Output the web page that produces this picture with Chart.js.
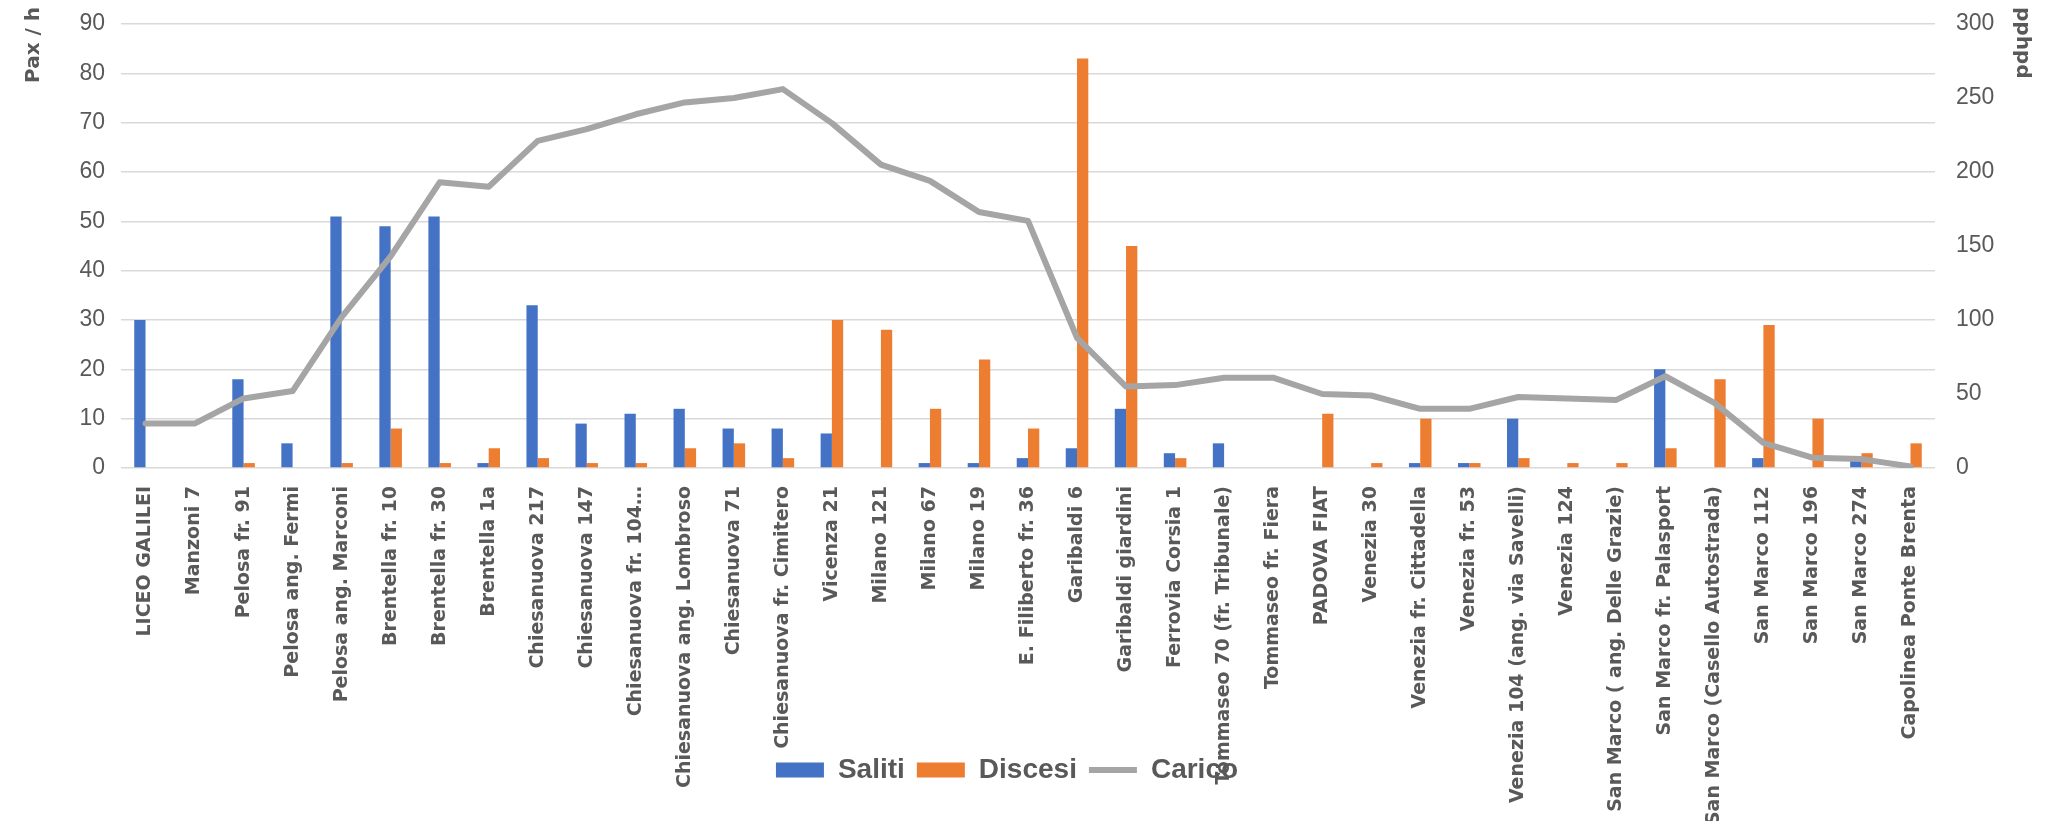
<!DOCTYPE html>
<html>
<head>
<meta charset="utf-8">
<script src="https://cdn.jsdelivr.net/npm/chart.js@4.4.1/dist/chart.umd.min.js"></script>
<style>
  html, body { margin: 0; padding: 0; background: #fff; }
  #wrap { width: 2062px; height: 821px; position: relative; }
</style>
</head>
<body>
<div id="wrap"><canvas id="chart"></canvas></div>
<script>
  // fermate
  const fermate = [
    'LICEO GALILEI', 'Manzoni 7', 'Pelosa fr. 91', 'Pelosa ang. Fermi', 'Pelosa ang. Marconi',
    'Brentella fr. 10', 'Brentella fr. 30', 'Brentella 1a', 'Chiesanuova 217', 'Chiesanuova 147',
    'Chiesanuova fr. 104…', 'Chiesanuova ang. Lombroso', 'Chiesanuova 71', 'Chiesanuova fr. Cimitero',
    'Vicenza 21', 'Milano 121', 'Milano 67', 'Milano 19', 'E. Filiberto fr. 36', 'Garibaldi 6',
    'Garibaldi giardini', 'Ferrovia Corsia 1', 'Tommaseo 70 (fr. Tribunale)', 'Tommaseo fr. Fiera',
    'PADOVA FIAT', 'Venezia 30', 'Venezia fr. Cittadella', 'Venezia fr. 53', 'Venezia 104 (ang. via Savelli)',
    'Venezia 124', 'San Marco ( ang. Delle Grazie)', 'San Marco fr. Palasport', 'San Marco (Casello Autostrada)',
    'San Marco 112', 'San Marco 196', 'San Marco 274', 'Capolinea Ponte Brenta'
  ];

  const saliti  = [30, 0, 18, 5, 51, 49, 51, 1, 33, 9, 11, 12, 8, 8, 7, 0, 1, 1, 2, 4, 12, 3, 5, 0, 0, 0, 1, 1, 10, 0, 0, 20, 0, 2, 0, 2, 0];
  const discesi = [0, 0, 1, 0, 1, 8, 1, 4, 2, 1, 1, 4, 5, 2, 30, 28, 12, 22, 8, 83, 45, 2, 0, 0, 11, 1, 10, 1, 2, 1, 1, 4, 18, 29, 10, 3, 5];
  const carico  = [30, 30, 47, 52, 102, 143, 193, 190, 221, 229, 239, 247, 250, 256, 233, 205, 194, 173, 167, 88, 55, 56, 61, 61, 50, 49, 40, 40, 48, 47, 46, 62, 44, 17, 7, 6, 1];

  const grigio = '#595959';

  // come in Excel: etichette lunghe sotto la legenda, legenda un po' a sinistra, titoli assi in alto
  const ritocchi = {
    id: 'ritocchi',
    afterLayout(chart) {
      chart.scales.x.bottom = chart.height;
      chart.legend.left -= 24;
      chart.legend.right -= 24;
      chart.scales.y.top -= 17;
      chart.scales.y1.top -= 17;
    }
  };

  let ctx = document.getElementById('chart').getContext('2d');

  let myChart = new Chart(ctx, {
    type: 'bar',
    data: {
      labels: fermate,
      datasets: [
        {
          label: 'Saliti',
          data: saliti,
          backgroundColor: '#4472C4',
          pointStyle: 'rect',
          yAxisID: 'y',
          order: 1
        },
        {
          label: 'Discesi',
          data: discesi,
          backgroundColor: '#ED7D31',
          pointStyle: 'rect',
          yAxisID: 'y',
          order: 1
        },
        {
          type: 'line',
          label: 'Carico',
          data: carico,
          borderColor: '#A5A5A5',
          backgroundColor: '#A5A5A5',
          borderWidth: 6,
          pointRadius: 0,
          pointBorderWidth: 6,
          pointStyle: 'line',
          borderJoinStyle: 'round',
          borderCapStyle: 'round',
          tension: 0,
          yAxisID: 'y1',
          order: 0
        }
      ]
    },
    plugins: [ritocchi],
    options: {
      responsive: true,
      maintainAspectRatio: false,
      animation: false,
      categoryPercentage: 0.46,
      barPercentage: 1,
      layout: { padding: { top: 24, bottom: 27, left: 0, right: 0 } },
      plugins: {
        tooltip: { enabled: false },
        legend: {
          position: 'bottom',
          labels: {
            usePointStyle: true,
            pointStyleWidth: 48,
            boxHeight: 15,
            padding: 12,
            color: grigio,
            font: { family: 'Liberation Sans, Arial, sans-serif', size: 28, weight: 'bold' },
            sort: (a, b) => a.datasetIndex - b.datasetIndex
          }
        }
      },
      scales: {
        x: {
          grid: { display: false, drawTicks: false },
          border: { display: false },
          ticks: {
            autoSkip: false,
            minRotation: 90,
            maxRotation: 90,
            padding: 18,
            color: grigio,
            font: { family: 'DejaVu Sans', size: 19, weight: 'bold' }
          },
          afterFit: (scale) => { scale.height = 276; }
        },
        y: {
          position: 'left',
          min: 0,
          max: 90,
          grid: { color: '#d9d9d9', lineWidth: 1.5, drawTicks: false },
          border: { display: false },
          ticks: {
            stepSize: 10,
            padding: 16,
            color: grigio,
            font: { family: 'Liberation Sans Narrow, Liberation Sans, sans-serif', size: 23 }
          },
          title: {
            display: true,
            text: 'Pax / h',
            align: 'end',
            color: grigio,
            padding: { top: 22, bottom: 0 },
            font: { family: 'DejaVu Sans', size: 20, weight: 'bold' }
          },
          afterFit: (scale) => {
            scale.width = 121;
            scale.paddingTop = 0;
            scale.paddingBottom = 0;
          }
        },
        y1: {
          position: 'right',
          min: 0,
          max: 300,
          grid: { display: false, drawTicks: false },
          border: { display: false },
          ticks: {
            stepSize: 50,
            padding: 21,
            color: grigio,
            font: { family: 'Liberation Sans Narrow, Liberation Sans, sans-serif', size: 23 }
          },
          title: {
            display: true,
            text: 'pphpd',
            align: 'end',
            color: grigio,
            padding: { top: 28, bottom: 0 },
            font: { family: 'DejaVu Sans', size: 20, weight: 'bold' }
          },
          afterFit: (scale) => {
            scale.width = 127;
            scale.paddingTop = 0;
            scale.paddingBottom = 0;
          }
        }
      }
    }
  });
</script>
</body>
</html>
